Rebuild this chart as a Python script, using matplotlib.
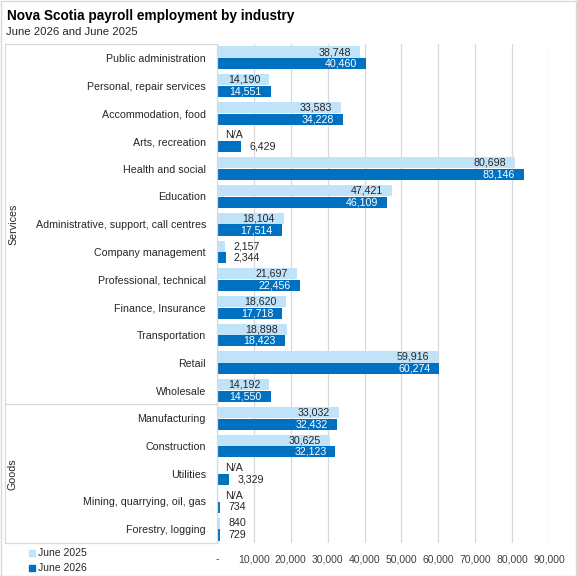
import matplotlib.pyplot as plt
from matplotlib.lines import Line2D
from matplotlib.patches import Rectangle
import numpy as np

plt.rcParams['font.family'] = ['Liberation Sans', 'DejaVu Sans']

industries = ['Public administration', 'Personal, repair services', 'Accommodation, food',
              'Arts, recreation', 'Health and social', 'Education',
              'Administrative, support, call centres', 'Company management',
              'Professional, technical', 'Finance, Insurance', 'Transportation',
              'Retail', 'Wholesale',
              'Manufacturing', 'Construction', 'Utilities',
              'Mining, quarrying, oil, gas', 'Forestry, logging']
group_names = ['Services', 'Goods']
group_sizes = [13, 5]
# None = N/A
june_2025 = [38748, 14190, 33583, None, 80698, 47421, 18104, 2157, 21697, 18620,
             18898, 59916, 14192, 33032, 30625, None, None, 840]
june_2026 = [40460, 14551, 34228, 6429, 83146, 46109, 17514, 2344, 22456, 17718,
             18423, 60274, 14550, 32432, 32123, 3329, 734, 729]
xticks = list(range(0, 90001, 10000))

LIGHT = '#C1E3FA'
DARK = '#0070C0'
GRID = '#D9D9D9'
TXT = '#262626'

W, H = 577, 576
fig = plt.figure(figsize=(W / 100, H / 100), dpi=100)
left, right, top, bottom = 217, 549, 44, 543
ax = fig.add_axes([left / W, 1 - bottom / H, (right - left) / W, (bottom - top) / H])

y = np.arange(len(industries))
v25 = [0 if v is None else v for v in june_2025]
ax.barh(y - 0.21, v25, height=0.4, color=LIGHT, zorder=2)
ax.barh(y + 0.21, june_2026, height=0.4, color=DARK, zorder=2)

def label(val, yy, inside_color):
    txt = 'N/A' if val is None else f'{val:,}'
    v = 0 if val is None else val
    if v > 10000:
        ax.annotate(txt, (v, yy), xytext=(-6.5, 0), textcoords='offset points',
                    ha='right', va='center', fontsize=7.7, color=inside_color, zorder=3)
    else:
        ax.annotate(txt, (v, yy), xytext=(6, 0), textcoords='offset points',
                    ha='left', va='center', fontsize=7.7, color=TXT, zorder=3)

for i in range(len(industries)):
    label(june_2025[i], i - 0.21, TXT)
    label(june_2026[i], i + 0.21, 'white')

ax.set_xlim(0, 90000)
ax.set_ylim(len(industries) - 0.5, -0.5)
ax.set_xticks(xticks)
ax.set_xticklabels(['-' if t == 0 else f'{t:,}' for t in xticks], fontsize=7.5, color='#404040')
ax.set_yticks(y)
ax.set_yticklabels(industries, fontsize=7.7, color=TXT)
ax.tick_params(axis='both', length=0)
ax.tick_params(axis='y', pad=8)
ax.tick_params(axis='x', pad=8)
ax.grid(axis='x', color=GRID, linewidth=0.9, zorder=0)
for s in ['top', 'right', 'bottom']:
    ax.spines[s].set_visible(False)
ax.spines['left'].set_color(GRID)
ax.spines['left'].set_linewidth(0.9)

# multi-level category box
def fline(x0, y0, x1, y1):
    fig.add_artist(Line2D([x0 / W, x1 / W], [1 - y0 / H, 1 - y1 / H], color=GRID,
                          linewidth=0.9, transform=fig.transFigure))

cat_h = (bottom - top) / len(industries)
fline(5, top, left, top)
fline(5, bottom, left, bottom)
fline(5, top, 5, bottom)
start = 0
for name, n in zip(group_names, group_sizes):
    y0 = top + start * cat_h
    y1 = top + (start + n) * cat_h
    if start > 0:
        fline(5, y0, left, y0)
    fig.text(13 / W, 1 - (y0 + y1) / 2 / H, name, rotation=90, ha='center', va='center',
             fontsize=7.7, color=TXT)
    start += n

fig.text(7 / W, 1 - 16 / H, 'Nova Scotia payroll employment by industry', fontsize=9.8,
         fontweight='bold', color='black', va='center')
fig.text(6 / W, 1 - 32 / H, 'June 2026 and June 2025', fontsize=8.2, color=TXT, va='center')

# legend
for k, (lab, col) in enumerate([('June 2025', LIGHT), ('June 2026', DARK)]):
    yc = 553 + k * 15
    fig.add_artist(Rectangle((29 / W, 1 - (yc + 3) / H), 6 / W, 6 / H, color=col,
                             transform=fig.transFigure))
    fig.text(38 / W, 1 - yc / H, lab, fontsize=7.5, color=TXT, va='center')

fig.add_artist(Rectangle((0.5 / W, 0.5 / H), (W - 1.5) / W, (H - 1.5) / H, fill=False,
                         edgecolor=GRID, linewidth=1, transform=fig.transFigure))

fig.savefig('out.png', dpi=100)
